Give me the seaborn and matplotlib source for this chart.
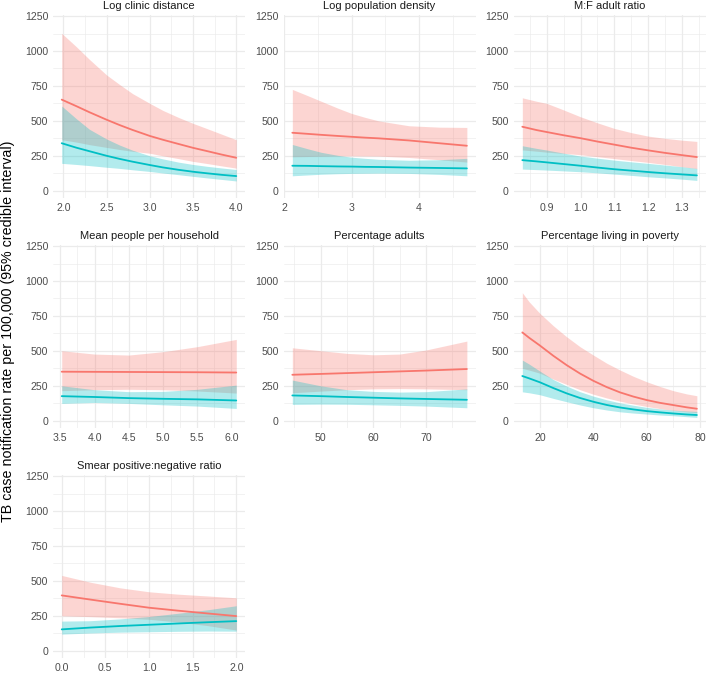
import numpy as np
import pandas as pd
import matplotlib
matplotlib.use("Agg")
import matplotlib.pyplot as plt
import seaborn as sns
from matplotlib.ticker import MultipleLocator, FormatStrFormatter, FixedLocator

# ---------------- data ----------------
panel_titles = ["Log clinic distance", "Log population density", "M:F adult ratio",
                "Mean people per household", "Percentage adults",
                "Percentage living in poverty", "Smear positive:negative ratio"]
series_names = ["Series A", "Series B"]
y_ticks = [0, 250, 500, 750, 1000, 1250]

clinic_x = [1.98, 2.15, 2.3, 2.5, 2.65, 2.8, 3.0, 3.15, 3.33, 3.5, 3.66, 3.83, 4.0]
clinic_a_mid = [652, 605, 562, 508, 470, 435, 392, 365, 335, 307, 284, 259, 236]
clinic_a_lo = [365, 348, 330, 310, 295, 282, 268, 250, 230, 210, 195, 178, 162]
clinic_a_hi = [1126, 1030, 940, 828, 760, 695, 625, 575, 525, 482, 445, 405, 365]
clinic_b_mid = [340, 308, 283, 250, 228, 208, 184, 167, 150, 136, 125, 114, 105]
clinic_b_lo = [196, 188, 180, 168, 160, 150, 138, 127, 115, 103, 92, 81, 70]
clinic_b_hi = [606, 515, 440, 370, 327, 290, 250, 228, 205, 188, 175, 163, 152]

popden_x = [2.12, 2.35, 2.55, 2.8, 3.0, 3.2, 3.4, 3.85, 4.3, 4.71]
popden_a_mid = [415, 407, 400, 392, 386, 380, 375, 360, 340, 322]
popden_a_lo = [243, 245, 247, 249, 250, 249, 248, 238, 222, 205]
popden_a_hi = [725, 680, 640, 590, 553, 525, 500, 465, 455, 453]
popden_b_mid = [179, 178, 176, 174, 173, 171, 170, 166, 163, 160]
popden_b_lo = [107, 113, 118, 122, 124, 125, 126, 124, 117, 107]
popden_b_hi = [331, 300, 275, 253, 240, 232, 225, 218, 222, 232]

mf_x = [0.8275, 0.87, 0.9, 0.95, 1.0, 1.05, 1.1, 1.15, 1.2, 1.25, 1.3, 1.3445]
mf_a_mid = [458, 434, 420, 397, 376, 352, 330, 308, 289, 271, 255, 241]
mf_a_lo = [292, 283, 276, 267, 258, 244, 230, 216, 203, 188, 172, 158]
mf_a_hi = [665, 640, 625, 578, 529, 486, 446, 416, 391, 375, 362, 353]
mf_b_mid = [219, 210, 203, 191, 179, 166, 154, 144, 134, 125, 117, 110]
mf_b_lo = [155, 151, 148, 142, 136, 128, 119, 110, 100, 92, 83, 74]
mf_b_hi = [322, 303, 291, 269, 248, 233, 219, 207, 196, 184, 172, 160]

hh_x = [3.52, 4.0, 4.5, 5.0, 5.5, 6.07]
hh_a_mid = [351, 350, 349, 348, 347, 345]
hh_a_lo = [215, 222, 225, 222, 213, 198]
hh_a_hi = [501, 477, 470, 494, 530, 582]
hh_b_mid = [176, 170, 162, 157, 153, 145]
hh_b_lo = [124, 131, 124, 114, 105, 88]
hh_b_hi = [250, 222, 208, 210, 225, 255]

adults_x = [44.6, 50, 55, 60, 65, 70, 77.8]
adults_a_mid = [329, 335, 341, 347, 353, 359, 370]
adults_a_lo = [200, 212, 222, 228, 230, 228, 222]
adults_a_hi = [522, 501, 482, 472, 477, 506, 570]
adults_b_mid = [181, 176, 170, 165, 160, 156, 150]
adults_b_lo = [117, 119, 118, 114, 110, 105, 93]
adults_b_hi = [291, 250, 222, 210, 205, 208, 228]

pov_x = [13.4, 16, 20, 25, 30, 35, 40, 45, 50, 55, 60, 65, 70, 75, 78.8]
pov_a_mid = [632, 593, 538, 465, 398, 338, 286, 241, 203, 173, 148, 128, 112, 96, 86]
pov_a_lo = [375, 362, 340, 298, 260, 222, 190, 163, 140, 120, 102, 87, 74, 64, 58]
pov_a_hi = [916, 850, 768, 680, 601, 530, 470, 412, 363, 318, 279, 245, 215, 192, 179]
pov_b_mid = [320, 303, 275, 234, 196, 163, 136, 113, 95, 81, 69, 60, 52, 45, 41]
pov_b_lo = [207, 200, 186, 160, 136, 113, 93, 77, 64, 55, 48, 41, 36, 29, 24]
pov_b_hi = [434, 405, 355, 295, 248, 208, 176, 150, 128, 111, 96, 85, 76, 70, 67]

smear_x = [0.0, 0.33, 0.67, 1.0, 1.33, 1.67, 2.0]
smear_a_mid = [396, 366, 336, 308, 287, 267, 248]
smear_a_lo = [250, 244, 236, 225, 206, 180, 148]
smear_a_hi = [539, 490, 450, 422, 405, 392, 379]
smear_b_mid = [153, 166, 177, 186, 195, 204, 212]
smear_b_lo = [119, 127, 133, 136, 139, 141, 140]
smear_b_hi = [212, 215, 228, 245, 268, 293, 322]

panel_data = [
    (clinic_x, clinic_a_mid, clinic_a_lo, clinic_a_hi, clinic_b_mid, clinic_b_lo, clinic_b_hi),
    (popden_x, popden_a_mid, popden_a_lo, popden_a_hi, popden_b_mid, popden_b_lo, popden_b_hi),
    (mf_x, mf_a_mid, mf_a_lo, mf_a_hi, mf_b_mid, mf_b_lo, mf_b_hi),
    (hh_x, hh_a_mid, hh_a_lo, hh_a_hi, hh_b_mid, hh_b_lo, hh_b_hi),
    (adults_x, adults_a_mid, adults_a_lo, adults_a_hi, adults_b_mid, adults_b_lo, adults_b_hi),
    (pov_x, pov_a_mid, pov_a_lo, pov_a_hi, pov_b_mid, pov_b_lo, pov_b_hi),
    (smear_x, smear_a_mid, smear_a_lo, smear_a_hi, smear_b_mid, smear_b_lo, smear_b_hi),
]
x_steps = [0.5, 1, 0.1, 0.5, 10, 20, 0.5]
x_formats = ["%.1f", "%d", "%.1f", "%.1f", "%d", "%d", "%.1f"]

# ---------------- style ----------------
sns.set_theme(style="white")
plt.rcParams["font.family"] = ["Liberation Sans", "DejaVu Sans"]
colors = {"Series A": "#F8766D", "Series B": "#00BFC4"}
grid_col = "#EBEBEB"

W, H = 706, 673
fig = plt.figure(figsize=(W / 100, H / 100), dpi=100)
col_left = [53, 283.6, 513.6]
row_top = [14.5, 244.5, 474.5]
pw, ph = 192, 183.8

for i, (title, data) in enumerate(zip(panel_titles, panel_data)):
    r, c = divmod(i, 3)
    ax = fig.add_axes([col_left[c] / W, 1 - (row_top[r] + ph) / H, pw / W, ph / H])
    xs, am, al, ah, bm, bl, bh = data
    rows = []
    for name, m, lo, hi in [(series_names[0], am, al, ah), (series_names[1], bm, bl, bh)]:
        for xv, mv, lv, hv in zip(xs, m, lo, hi):
            rows.append({"x": xv, "mid": mv, "lo": lv, "hi": hv, "series": name})
    df = pd.DataFrame(rows)
    for name in series_names:
        d = df[df.series == name]
        ax.fill_between(d["x"], d["lo"], d["hi"], color=colors[name], alpha=0.3,
                        linewidth=0, zorder=2)
    sns.lineplot(data=df, x="x", y="mid", hue="series", palette=colors, ax=ax,
                 legend=False, linewidth=1.3, zorder=3)
    ax.margins(x=0.05)
    ax.set_ylim(-54, 1261)
    ax.yaxis.set_major_locator(FixedLocator(y_ticks))
    ax.yaxis.set_minor_locator(MultipleLocator(125))
    ax.xaxis.set_major_locator(MultipleLocator(x_steps[i]))
    ax.xaxis.set_minor_locator(MultipleLocator(x_steps[i] / 2))
    ax.xaxis.set_major_formatter(FormatStrFormatter(x_formats[i]))
    ax.grid(True, which="major", color=grid_col, linewidth=0.9, zorder=0)
    ax.grid(True, which="minor", color=grid_col, linewidth=0.45, zorder=0)
    ax.set_axisbelow(True)
    for s in ax.spines.values():
        s.set_visible(False)
    ax.tick_params(which="both", length=0, labelsize=7.6, colors="#4D4D4D", pad=3.5)
    ax.set_xlabel("")
    ax.set_ylabel("")
    ax.set_title(title, fontsize=8, color="#1A1A1A", pad=4)

fig.text(8 / W, 1 - 331 / H,
         "TB case notification rate per 100,000 (95% credible interval)",
         rotation=90, ha="center", va="center", fontsize=10.3, color="#000000")

fig.savefig("out.png", dpi=100, facecolor="white")
